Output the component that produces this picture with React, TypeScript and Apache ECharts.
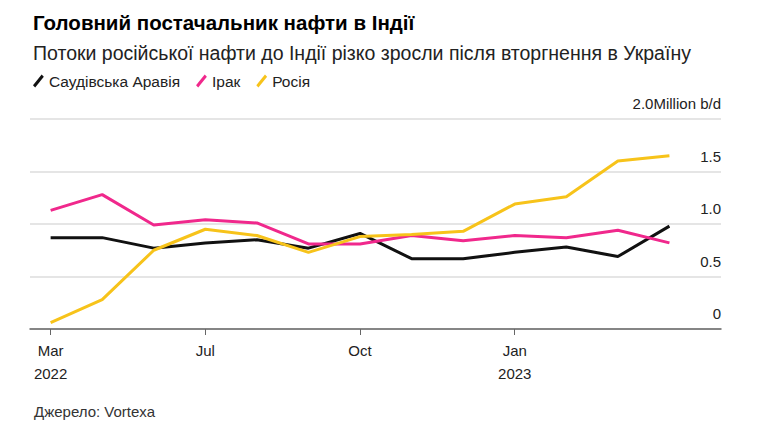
import { useEffect, useRef } from 'react';
import * as echarts from 'echarts';

const monthLabels = ['Mar\n2022', '', '', 'Jul', '', '', 'Oct', '', '', 'Jan\n2023', '', '', ''];
const saudi = [0.87, 0.87, 0.77, 0.82, 0.85, 0.77, 0.91, 0.67, 0.67, 0.73, 0.78, 0.69, 0.98];
const iraq = [1.13, 1.28, 0.99, 1.04, 1.01, 0.81, 0.81, 0.89, 0.84, 0.89, 0.87, 0.94, 0.82];
const russia = [0.06, 0.28, 0.75, 0.95, 0.89, 0.73, 0.88, 0.9, 0.93, 1.19, 1.26, 1.6, 1.65];
const yTicks = [0, 0.5, 1, 1.5, 2];

const FONT = '"Liberation Sans", Arial, sans-serif';
const legendIcon = 'path://M0,10L8,0L10,2L2,12Z';

export default function App() {
  const chartRef = useRef<HTMLDivElement>(null);

  useEffect(() => {
    document.body.style.margin = '0';
    if (!chartRef.current) return;
    const chart = echarts.init(chartRef.current, undefined, { renderer: 'svg' });

    const toPairs = (arr: number[]) => arr.map((v, i) => [i, v]);
    const line = (name: string, data: number[], color: string) => ({
      name,
      type: 'line',
      data: toPairs(data),
      symbol: 'none',
      lineStyle: { color, width: 3 },
      itemStyle: { color },
    });

    chart.setOption({
      animation: false,
      backgroundColor: '#fff',
      textStyle: { fontFamily: FONT },
      title: [
        {
          text: 'Головний постачальник нафти в Індії',
          left: 28,
          top: 7,
          textStyle: { fontSize: 20.5, fontWeight: 'bold', color: '#000', fontFamily: FONT },
        },
        {
          text: 'Потоки російської нафти до Індії різко зросли після вторгнення в Україну',
          left: 28,
          top: 38,
          textStyle: { fontSize: 19.5, fontWeight: 'normal', color: '#222', fontFamily: FONT },
        },
        {
          text: 'Джерело: Vortexa',
          left: 29,
          top: 399,
          textStyle: { fontSize: 15, fontWeight: 'normal', color: '#333', fontFamily: FONT },
        },
      ],
      legend: {
        left: 28,
        top: 68,
        icon: legendIcon,
        itemWidth: 11,
        itemHeight: 13,
        itemGap: 16,
        textStyle: { fontSize: 15.5, color: '#222', fontFamily: FONT },
        data: ['Саудівська Аравія', 'Ірак', 'Росія'],
      },
      grid: { left: 30, right: 43, top: 119, bottom: 101 },
      xAxis: {
        type: 'value',
        min: -0.4,
        max: 13,
        splitLine: { show: false },
        axisLine: { show: true, lineStyle: { color: '#666', width: 1.5 } },
        axisTick: { show: true, customValues: [0, 3, 6, 9], length: 6, lineStyle: { color: '#666' } },
        axisLabel: {
          customValues: [0, 3, 6, 9],
          formatter: (v: number) => monthLabels[Math.round(v)] ?? '',
          fontSize: 15,
          color: '#222',
          lineHeight: 23,
          margin: 10,
          fontFamily: FONT,
        },
      },
      yAxis: {
        type: 'value',
        position: 'right',
        min: 0,
        max: 2,
        interval: 0.5,
        axisLine: { show: false },
        axisTick: { show: false },
        splitLine: { lineStyle: { color: '#ddd', width: 1.5 } },
        axisLabel: {
          inside: true,
          margin: 0,
          verticalAlign: 'bottom',
          padding: [0, 0, 8, 0],
          fontSize: 15,
          color: '#222',
          fontFamily: FONT,
          formatter: (v: number) => {
            if (!yTicks.includes(v)) return '';
            if (v === 2) return '2.0Million b/d';
            return v === 0 ? '0' : v.toFixed(1);
          },
        },
      },
      series: [
        line('Саудівська Аравія', saudi, '#111'),
        line('Ірак', iraq, '#f0288c'),
        line('Росія', russia, '#f7c31a'),
      ],
    });

    return () => chart.dispose();
  }, []);

  return <div ref={chartRef} style={{ width: 764, height: 430 }} />;
}
